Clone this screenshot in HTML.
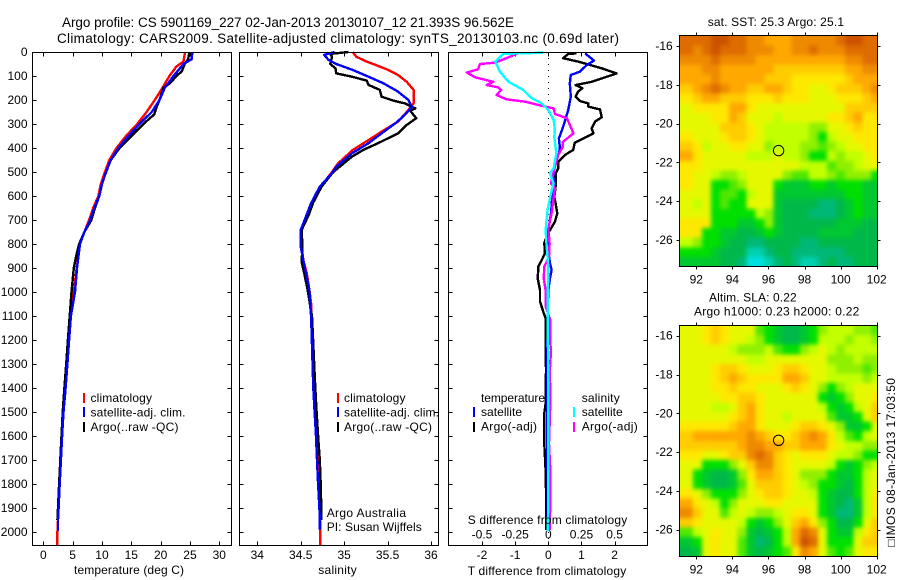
<!DOCTYPE html>
<html lang="en">
<head>
<meta charset="utf-8">
<title>Argo profile chart</title>
<style>
html,body{margin:0;padding:0;background:#fff;}
svg{display:block;}
text{font-family:"Liberation Sans",sans-serif;font-size:12px;fill:#000;}
.frame{fill:none;stroke:#000;stroke-width:1;shape-rendering:crispEdges;}
.bar{shape-rendering:crispEdges;}
</style>
</head>
<body>
<svg id="chart" xmlns="http://www.w3.org/2000/svg" width="900" height="580" viewBox="0 0 900 580">
  <defs>
    <filter id="mapSmooth" filterUnits="userSpaceOnUse" x="640" y="0" width="260" height="580" color-interpolation-filters="sRGB">
      <feGaussianBlur stdDeviation="2.2"/>
    </filter>
    <clipPath id="sstClip"><rect x="680" y="36" width="197" height="230.5"/></clipPath>
    <clipPath id="slaClip"><rect x="680" y="326" width="197" height="230.5"/></clipPath>
  </defs>
  <rect x="0" y="0" width="900" height="580" fill="#fff"/>

  <text x="62" y="27" textLength="452" lengthAdjust="spacing" style="font-size:13.5px">Argo profile: CS 5901169_227 02-Jan-2013 20130107_12 21.393S 96.562E</text>
  <text x="57" y="43" textLength="562" lengthAdjust="spacing" style="font-size:13.5px">Climatology: CARS2009. Satellite-adjusted climatology: synTS_20130103.nc (0.69d later)</text>

  <g id="maps">
    <g clip-path="url(#sstClip)"><g id="sstCells" filter="url(#mapSmooth)"></g></g>
    <g clip-path="url(#slaClip)"><g id="slaCells" filter="url(#mapSmooth)"></g></g>
  </g>
  <g id="ticks"></g>
  <g id="marks"></g>

  <rect class="frame" x="32.5" y="52.5" width="199" height="493"/>
  <rect class="frame" x="239.5" y="52.5" width="199" height="493"/>
  <rect class="frame" x="448.5" y="52.5" width="199" height="493"/>
  <rect class="frame" x="679.5" y="35.5" width="198" height="231"/>
  <rect class="frame" x="679.5" y="325.5" width="198" height="231"/>

  <g>
    <rect class="bar" x="83" y="393" width="2" height="10" fill="#f00"/>
    <rect class="bar" x="83" y="407" width="2" height="10" fill="#00f"/>
    <rect class="bar" x="83" y="422" width="2" height="10" fill="#000"/>
    <text x="90.5" y="402" textLength="61.5" lengthAdjust="spacing">climatology</text>
    <text x="90.5" y="416.5" textLength="95" lengthAdjust="spacing">satellite-adj. clim.</text>
    <text x="90.5" y="431" textLength="88" lengthAdjust="spacing">Argo(..raw -QC)</text>
  </g>
  <g>
    <rect class="bar" x="337" y="393" width="2" height="10" fill="#f00"/>
    <rect class="bar" x="337" y="407" width="2" height="10" fill="#00f"/>
    <rect class="bar" x="337" y="422" width="2" height="10" fill="#000"/>
    <text x="344" y="402" textLength="61.5" lengthAdjust="spacing">climatology</text>
    <text x="344" y="416.5" textLength="95" lengthAdjust="spacing">satellite-adj. clim.</text>
    <text x="344" y="431" textLength="88" lengthAdjust="spacing">Argo(..raw -QC)</text>
    <text x="326.7" y="517" textLength="79.3" lengthAdjust="spacing">Argo Australia</text>
    <text x="326.7" y="531" textLength="95" lengthAdjust="spacing">PI: Susan Wijffels</text>
  </g>
  <g>
    <text x="481" y="402" textLength="64" lengthAdjust="spacing">temperature</text>
    <text x="581.7" y="402" textLength="38" lengthAdjust="spacing">salinity</text>
    <rect class="bar" x="473" y="407" width="2" height="10" fill="#00f"/>
    <rect class="bar" x="473" y="422" width="2" height="10" fill="#000"/>
    <rect class="bar" x="573" y="407" width="2" height="10" fill="#0ff"/>
    <rect class="bar" x="573" y="422" width="2" height="10" fill="#f0f"/>
    <text x="481" y="416" textLength="41" lengthAdjust="spacing">satellite</text>
    <text x="481" y="430.7" textLength="56" lengthAdjust="spacing">Argo(-adj)</text>
    <text x="581.7" y="416" textLength="41" lengthAdjust="spacing">satellite</text>
    <text x="581.7" y="430.7" textLength="56" lengthAdjust="spacing">Argo(-adj)</text>
  </g>

  <text x="74" y="574" textLength="110" lengthAdjust="spacing">temperature (deg C)</text>
  <text x="318.3" y="574" textLength="38.4" lengthAdjust="spacing">salinity</text>
  <text x="467.7" y="524" textLength="159.5" lengthAdjust="spacing">S difference from climatology</text>
  <text x="467.7" y="575" textLength="158.5" lengthAdjust="spacing">T difference from climatology</text>

  <text x="707.7" y="26" textLength="136.3" lengthAdjust="spacing">sat. SST: 25.3 Argo: 25.1</text>
  <text x="709" y="301.7" textLength="87.7" lengthAdjust="spacing">Altim. SLA: 0.22</text>
  <text x="694" y="315.7" textLength="165.3" lengthAdjust="spacing">Argo h1000: 0.23 h2000: 0.22</text>

  <text transform="translate(895,546.7) rotate(-90)" x="0" y="0" textLength="168.7" lengthAdjust="spacing">□IMOS 08-Jan-2013 17:03:50</text>
</svg>

<script>
/* ---------- tick labels ---------- */
var depthTicks = [0,100,200,300,400,500,600,700,800,900,1000,1100,1200,1300,1400,1500,1600,1700,1800,1900,2000];
var temperatureTicks = [0,5,10,15,20,25,30];
var salinityTicks = [34,34.5,35,35.5,36];
var salinityTickLabels = ['34','34.5','35','35.5','36'];
var tDiffTicks = [-2,-1,0,1,2];
var sDiffTicks = [-0.5,-0.25,0,0.25,0.5];
var sDiffTickLabels = ['-0.5','-0.25','0','0.25','0.5'];
var lonTicks = [92,94,96,98,100,102];
var latTicks = [-16,-18,-20,-22,-24,-26];

/* ---------- temperature panel ---------- */
var tempClimDepth = [0,40,60,100,150,200,250,300,350,400,450,500,550,600,650,700,750,800,900,1000,1100,1200,1300,1400,1500,1600,1700,1800,1900,2000,2054];
var tempClimValue = [24.15,23.9,22.7,21.5,20.3,19.0,17.6,16.0,14.1,12.5,11.25,10.5,9.8,9.4,8.5,7.8,7.0,6.25,5.7,5.2,4.7,4.35,4.0,3.7,3.4,3.2,2.95,2.8,2.6,2.4,2.35];
var tempArgoDepth = [0,30,50,80,100,130,150,200,230,260,300,350,400,450,500,550,600,650,700,750,800,850,900,1000,1100,1200,1300,1400,1500,1600,1700,1800,1900,1950];
var tempArgoValue = [24.9,24.7,24.1,23.6,22.7,21.6,20.45,19.8,19.3,18.9,17.05,15.05,13,11.5,10.7,10,9.55,8.8,8.2,7,6.1,5.6,5.2,4.8,4.5,4.2,3.9,3.6,3.3,3.1,2.9,2.7,2.5,2.4];
var tempSatDepth = [0,30,50,100,150,200,250,300,350,400,450,500,550,600,650,700,750,800,850,900,1000,1100,1200,1300,1400,1500,1600,1700,1800,1900,1950,1995];
var tempSatValue = [25.4,25.3,23.9,22.2,20.7,19.8,18.5,16.4,14.5,12.8,11.5,10.7,10,9.55,8.7,8,7,6.25,6,5.75,5.4,4.7,4.4,4.1,3.8,3.45,3.2,3,2.8,2.6,2.5,2.5];

/* ---------- salinity panel ---------- */
var salClimDepth = [0,20,40,55,75,96,124,158,214,250,290,332,367,408,464,500,547,603,672,750,811,867,922,992,1047,1100,1200,1300,1400,1500,1600,1700,1800,1900,2000,2054];
var salClimValue = [35.1,35.14,35.26,35.37,35.51,35.62,35.72,35.8,35.8,35.72,35.62,35.43,35.28,35.1,34.93,34.86,34.76,34.66,34.59,34.5,34.51,34.53,34.57,34.6,34.62,34.62,34.63,34.645,34.656,34.668,34.676,34.695,34.71,34.72,34.725,34.725];
var salArgoDepth = [0,8,20,50,68,89,103,119,137,158,186,203,214,235,244,276,304,339,380,408,436,500,561,630,672,742,811,873,922,992,1060,1100,1400,1500,1600,1700,1800,1900,1950];
var salArgoValue = [35.05,34.84,34.86,34.84,34.9,34.91,35.09,35.26,35.28,35.41,35.43,35.57,35.7,35.82,35.76,35.83,35.72,35.62,35.39,35.22,35.09,34.875,34.74,34.64,34.6,34.51,34.52,34.51,34.54,34.58,34.61,34.63,34.668,34.683,34.7,34.72,34.73,34.737,34.737];
var salSatDepth = [0,12,33,50,75,103,130,165,200,228,262,297,339,380,422,478,505,561,630,742,811,867,922,992,1060,1100,1400,1500,1600,1700,1800,1900,1950,1990];
var salSatValue = [34.89,34.77,34.82,34.91,35.1,35.28,35.45,35.62,35.74,35.78,35.7,35.59,35.43,35.28,35.09,34.91,34.86,34.72,34.62,34.5,34.5,34.53,34.56,34.6,34.61,34.62,34.645,34.66,34.676,34.687,34.7,34.715,34.72,34.72];

/* ---------- difference panel ---------- */
var diffTArgoDepth = [6,8,26,40,68,89,110,124,138,151,165,186,204,214,228,239,272,290,318,339,360,378,408,429,457,485,506,561,603,631,672,707,742,769,797,839,867,894,943,992,1040,1082,1110,1214,1325,1464,1506,1631,1742,1825,1992];
var diffTArgoValue = [0.85,0.6,0.45,0.9,1.61,2.06,1.61,1.31,0.82,1.03,0.9,0.82,0.95,1.21,1.21,1.56,1.61,1.41,1.31,1.36,1.06,0.8,0.75,0.5,0.3,0.3,0.22,0.22,0.18,0.22,0.27,0.2,0.05,-0.05,-0.12,-0.1,-0.2,-0.3,-0.32,-0.25,-0.25,-0.15,-0.08,-0.08,-0.07,-0.08,-0.12,-0.12,-0.08,-0.07,-0.06];
var diffTSatDepth = [6,36,54,82,96,131,186,242,311,360,401,422,464,519,561,603,672,742,811,881,908,943,992,1096,1325,1600,1880,1995];
var diffTSatValue = [1.11,1.38,1.16,0.95,0.68,0.65,0.68,0.6,0.45,0.32,0.35,0.32,0.2,0.15,0.2,0.12,0.08,0,-0.02,0.05,0.1,0.05,0,-0.02,-0.03,-0.03,-0.02,0];
var diffSArgoDepth = [6,22,44,50,72,86,106,124,138,147,158,179,197,207,221,235,258,276,339,374,394,429,499,547,568,672,735,797,853,894,943,992,1060,1117,1214,1242,1325,1464,1631,1742,1880,1992];
var diffSArgoValue = [-0.23,-0.3,-0.4,-0.515,-0.53,-0.615,-0.55,-0.415,-0.465,-0.38,-0.355,-0.39,-0.315,-0.175,-0.075,0.04,0.05,0.14,0.19,0.11,0.11,0.075,0.04,0.02,0.05,0.025,0,0.01,0.005,-0.03,-0.035,-0.02,-0.02,0.015,0.015,0.02,0.012,0.015,0.005,0.015,0.015,0.01];
var diffSSatDepth = [3,8,40,82,124,158,193,214,242,283,325,353,422,485,506,547,589,658,742,811,894,943,992,1464,1880,1995];
var diffSSatValue = [-0.04,-0.34,-0.4,-0.365,-0.3,-0.19,-0.125,-0.05,0,0.04,0.05,0.045,0.06,0.04,0.012,0.04,0.02,-0.005,-0.02,-0.012,0,0,-0.005,0,0,-0.005];

/* ---------- float position ---------- */
var argoLon = [96.562];
var argoLat = [-21.393];

/* ---------- heat-map colours (index = level) ---------- */
var mapLevelColors = ['#cc5200','#de6c00','#ee8a00','#ffa800','#ffcc00','#ffe800','#e6f800','#c2ff00','#90f000','#50e800','#00e000','#00c830','#00b84a','#00b878','#00d0b0','#00e0e0'];

/* ---------- satellite SST map, north to south, colour level per cell ---------- */
var sstLevels = [
[1,1,1,0,0,1,1,2,2,3,3,3,2,2,2,2,2,1,0,0,1,1],
[1,2,1,0,1,1,1,2,2,2,3,3,2,2,1,2,2,2,1,1,1,1],
[2,2,2,1,2,2,2,2,3,3,3,3,3,3,3,3,3,3,2,2,1,1],
[3,3,2,2,3,3,3,3,3,3,4,4,4,4,4,4,4,4,3,3,2,2],
[3,3,3,2,3,3,3,3,3,4,4,4,5,5,5,5,5,5,4,3,3,3],
[4,3,2,1,2,3,3,4,4,3,3,4,5,5,6,6,5,4,4,4,3,2],
[5,4,3,3,4,4,4,5,5,5,4,5,5,5,6,6,6,5,5,5,4,3],
[6,5,5,5,5,3,3,5,6,6,6,6,6,6,6,6,6,6,4,4,4,4],
[6,6,6,5,5,3,4,6,6,6,7,6,6,6,6,6,5,5,4,3,5,5],
[6,6,6,6,4,4,4,5,6,7,7,7,7,7,8,8,6,6,5,4,5,5],
[5,6,6,6,5,4,4,5,6,7,7,7,7,7,8,10,7,6,6,5,5,5],
[4,5,7,6,6,5,5,6,6,8,7,7,7,8,8,9,8,7,6,6,5,5],
[3,5,6,6,6,6,6,7,7,7,6,7,7,8,10,10,7,8,7,7,6,5],
[5,5,6,6,6,6,6,6,6,6,6,6,6,7,7,7,9,8,8,7,6,6],
[5,6,6,7,8,8,7,6,6,6,6,8,9,9,7,7,8,9,8,8,8,10],
[5,6,6,10,10,9,8,6,6,6,10,11,11,11,10,10,11,10,10,10,11,11],
[6,6,6,10,9,9,10,7,6,6,11,11,11,11,11,11,11,11,10,10,11,11],
[6,7,6,10,9,10,10,6,6,6,11,12,12,12,12,13,13,12,11,10,11,11],
[6,6,6,10,10,10,10,10,7,8,11,12,12,12,13,13,13,12,11,10,11,11],
[5,5,5,10,10,10,11,11,10,8,11,12,12,12,12,12,12,11,11,11,12,12],
[5,5,10,10,11,11,12,12,11,10,11,12,12,12,12,11,11,11,11,12,12,12],
[7,8,10,10,11,12,12,13,13,12,12,12,12,13,13,12,12,12,12,12,12,12],
[10,10,10,11,12,12,12,14,14,13,12,12,13,13,13,13,13,13,12,12,12,12],
[11,11,11,11,12,12,13,15,15,14,13,12,13,14,14,13,12,13,13,12,12,12]
];

/* ---------- altimeter SLA map, north to south, colour level per cell ---------- */
var slaLevels = [
[6,6,5,4,5,6,6,6,9,10,11,12,12,11,10,8,7,7,7,8,8,9],
[6,6,5,4,5,6,6,7,8,10,11,12,12,11,10,7,7,7,8,7,7,8],
[6,6,6,6,6,7,8,8,8,7,9,10,10,8,7,6,7,8,7,7,7,7],
[6,6,6,6,6,6,6,7,7,6,6,6,6,6,6,6,8,8,8,7,8,8],
[6,6,6,5,4,4,5,6,6,6,5,4,4,5,6,6,7,8,8,8,9,8],
[6,6,6,5,4,3,4,5,5,5,5,3,3,4,6,6,7,7,7,7,8,7],
[6,6,6,5,5,4,5,5,6,6,6,5,4,5,6,8,10,8,7,6,6,6],
[6,6,6,6,5,5,4,4,5,6,6,6,6,6,6,10,11,10,8,6,6,5],
[6,6,6,7,7,6,4,3,5,6,6,6,6,6,6,7,10,11,10,7,6,4],
[6,6,6,6,6,5,4,3,5,6,6,7,6,6,6,6,9,11,11,10,6,4],
[5,5,5,5,5,4,3,3,5,6,6,6,5,4,4,5,6,8,11,11,10,6],
[4,3,3,3,3,3,3,2,3,4,5,5,4,3,2,3,5,7,9,10,7,6],
[4,4,4,4,4,4,3,2,2,3,3,4,4,3,3,3,5,6,7,7,8,8],
[5,5,6,6,5,4,4,2,1,2,4,5,6,5,5,5,6,7,7,8,10,10],
[6,6,10,10,10,8,6,4,2,2,4,5,6,6,6,6,7,10,11,10,8,7],
[6,10,11,12,12,11,8,5,3,3,4,5,6,8,8,8,10,11,11,10,7,6],
[6,10,11,12,12,11,9,6,4,4,4,5,6,7,8,10,10,11,12,10,7,6],
[5,6,8,10,10,10,8,6,5,4,4,5,6,6,7,10,11,12,12,10,7,5],
[3,5,6,7,10,8,6,6,6,5,5,6,6,6,6,10,11,12,13,11,7,5],
[2,4,6,6,9,7,6,7,8,8,7,6,5,5,6,10,11,13,13,11,7,5],
[4,5,6,6,6,6,7,10,11,10,8,6,4,3,5,8,10,12,12,10,6,4],
[9,7,6,5,6,6,8,11,12,11,10,7,3,1,2,6,10,11,11,7,5,4],
[11,10,6,5,6,6,9,11,13,12,10,7,3,0,1,6,10,10,10,6,4,4],
[12,11,6,5,6,6,9,11,12,11,10,9,5,2,3,6,9,10,9,6,5,5]
];

/* ---------- axis functions ---------- */
var SVGNS = 'http://www.w3.org/2000/svg';
function yDepth(d){ return 52 + d * 0.24; }
function xTemp(t){ return 43.3 + t * 5.867; }
function xSal(s){ return 257.3 + (s - 34) * 86.85; }
function xDiffT(t){ return 548.3 + t * 33.15; }
function xDiffS(s){ return 548.3 + s * 132.6; }
function xLon(lon){ return 696.3 + (lon - 92) * 18.04; }
function yLatTop(lat){ return 46 + (-16 - lat) * 19.4; }
function yLatBottom(lat){ return 335.7 + (-16 - lat) * 19.4; }

var ticksLayer = document.getElementById('ticks');
var marksLayer = document.getElementById('marks');
var mapsLayer = document.getElementById('maps');

function addTick(x1, y1, x2, y2, name){
  var el = document.createElementNS(SVGNS, 'line');
  
  
  el.setAttribute('x1', x1); el.setAttribute('y1', y1);
  el.setAttribute('x2', x2); el.setAttribute('y2', y2);
  el.setAttribute('stroke', '#000');
  el.setAttribute('stroke-width', '1');
  el.setAttribute('shape-rendering', 'crispEdges');
  ticksLayer.appendChild(el);
}
function addLabel(x, y, str, anchor, name){
  var el = document.createElementNS(SVGNS, 'text');
  
  
  el.setAttribute('x', x); el.setAttribute('y', y);
  el.setAttribute('text-anchor', anchor);
  el.textContent = str;
  ticksLayer.appendChild(el);
}
function addProfile(xf, depths, values, color, name){
  var pts = [];
  for (var i = 0; i < depths.length; i++) {
    pts.push(xf(values[i]).toFixed(1) + ',' + yDepth(depths[i]).toFixed(1));
  }
  var el = document.createElementNS(SVGNS, 'polyline');
  
  
  el.setAttribute('points', pts.join(' '));
  el.setAttribute('fill', 'none');
  el.setAttribute('stroke', color);
  el.setAttribute('stroke-width', '2.4');
  el.setAttribute('stroke-linejoin', 'round');
  el.setAttribute('shape-rendering', 'crispEdges');
  marksLayer.appendChild(el);
}
function addHeatmap(levels, yLat, target, name){
  var lon0 = 91.33, latTop = -15.47, lonStep = 0.4945, latStep = 0.4958, pad = 12;
  var lastRow = levels.length - 1;
  for (var r = 0; r < levels.length; r++) {
    for (var c = 0; c < levels[r].length; c++) {
      var el = document.createElementNS(SVGNS, 'rect');
      
      
      var x0 = xLon(lon0 + c * lonStep), x1 = xLon(lon0 + (c + 1) * lonStep);
      var y0 = yLat(latTop - r * latStep), y1 = yLat(latTop - (r + 1) * latStep);
      /* outer cells run past the clip so the smoothing does not fade at the frame */
      if (c === 0) { x0 -= pad; }
      if (c === levels[r].length - 1) { x1 += pad; }
      if (r === 0) { y0 -= pad; }
      if (r === lastRow) { y1 += pad; }
      el.setAttribute('x', x0.toFixed(1));
      el.setAttribute('y', y0.toFixed(1));
      el.setAttribute('width', (x1 - x0 + 0.5).toFixed(1));
      el.setAttribute('height', (y1 - y0 + 0.5).toFixed(1));
      el.setAttribute('fill', mapLevelColors[levels[r][c]]);
      el.setAttribute('shape-rendering', 'crispEdges');
      target.appendChild(el);
    }
  }
}
function addMarker(yLat, name){
  var el = document.createElementNS(SVGNS, 'circle');
  
  
  el.setAttribute('cx', xLon(argoLon[0]).toFixed(1));
  el.setAttribute('cy', yLat(argoLat[0]).toFixed(1));
  el.setAttribute('r', '5.2');
  el.setAttribute('fill', 'none');
  el.setAttribute('stroke', '#000');
  el.setAttribute('stroke-width', '1');
  mapsLayer.appendChild(el);
}

/* ---------- depth ticks on the three profile panels ---------- */
var panelEdges = [[32.5,231.5],[239.5,438.5],[448.5,647.5]];
panelEdges.forEach(function(edge, p){
  depthTicks.forEach(function(d){
    var y = Math.round(yDepth(d)) + 0.5;
    addTick(edge[0], y, edge[0] + 4, y, 'depth-tick-left');
    addTick(edge[1] - 4, y, edge[1], y, 'depth-tick-right');
    if (p === 0) {
      addLabel(27.5, yDepth(d) + 4, String(d), 'end', 'depth-tick-label');
    }
  });
});

/* ---------- x ticks on the three profile panels ---------- */
function xTicks(values, xf, labels, name, labelY){
  values.forEach(function(v, i){
    var x = Math.round(xf(v)) + 0.5;
    addTick(x, 52.5, x, 56.5, name + '-tick-top');
    addTick(x, 541.5, x, 545.5, name + '-tick-bottom');
    if (labels) {
      addLabel(xf(v), labelY, labels[i], 'middle', name + '-tick-label');
    }
  });
}
xTicks(temperatureTicks, xTemp, temperatureTicks.map(String), 'temperature', 559);
xTicks(salinityTicks, xSal, salinityTickLabels, 'salinity', 559);
xTicks(tDiffTicks, xDiffT, tDiffTicks.map(String), 't-difference', 559);
sDiffTicks.forEach(function(v, i){
  addLabel(xDiffS(v), 538.7, sDiffTickLabels[i], 'middle', 's-difference-tick-label');
});

/* ---------- zero reference line in difference panel ---------- */
var zeroLine = document.createElementNS(SVGNS, 'line');


zeroLine.setAttribute('x1', xDiffT(0));
zeroLine.setAttribute('x2', xDiffT(0));
zeroLine.setAttribute('y1', yDepth(0));
zeroLine.setAttribute('y2', yDepth(2054));
zeroLine.setAttribute('stroke', '#000');
zeroLine.setAttribute('stroke-width', '1');
zeroLine.setAttribute('stroke-dasharray', '1 5');
zeroLine.setAttribute('shape-rendering', 'crispEdges');
marksLayer.appendChild(zeroLine);

/* ---------- profile lines ---------- */
addProfile(xTemp, tempClimDepth, tempClimValue, '#f00', 'temperature-climatology-line');
addProfile(xTemp, tempArgoDepth, tempArgoValue, '#000', 'temperature-argo-line');
addProfile(xTemp, tempSatDepth, tempSatValue, '#00f', 'temperature-satellite-line');
addProfile(xSal, salClimDepth, salClimValue, '#f00', 'salinity-climatology-line');
addProfile(xSal, salArgoDepth, salArgoValue, '#000', 'salinity-argo-line');
addProfile(xSal, salSatDepth, salSatValue, '#00f', 'salinity-satellite-line');
addProfile(xDiffT, diffTArgoDepth, diffTArgoValue, '#000', 't-difference-argo-line');
addProfile(xDiffT, diffTSatDepth, diffTSatValue, '#00f', 't-difference-satellite-line');
addProfile(xDiffS, diffSArgoDepth, diffSArgoValue, '#f0f', 's-difference-argo-line');
addProfile(xDiffS, diffSSatDepth, diffSSatValue, '#0ff', 's-difference-satellite-line');

/* ---------- maps ---------- */
addHeatmap(sstLevels, yLatTop, document.getElementById('sstCells'), 'sst-cell');
addHeatmap(slaLevels, yLatBottom, document.getElementById('slaCells'), 'sla-cell');
addMarker(yLatTop, 'sst-argo-position-marker');
addMarker(yLatBottom, 'sla-argo-position-marker');

function mapAxes(yLat, top, bottom, name){
  lonTicks.forEach(function(lon){
    var x = Math.round(xLon(lon)) + 0.5;
    addTick(x, top - 3, x, top, name + '-lon-tick-top');
    addTick(x, bottom, x, bottom + 3, name + '-lon-tick-bottom');
    addLabel(xLon(lon), bottom + 16.8, String(lon), 'middle', name + '-lon-tick-label');
  });
  latTicks.forEach(function(lat){
    var y = Math.round(yLat(lat)) + 0.5;
    addTick(676.5, y, 679.5, y, name + '-lat-tick-left');
    addTick(877.5, y, 880.5, y, name + '-lat-tick-right');
    addLabel(672.7, yLat(lat) + 4, String(lat), 'end', name + '-lat-tick-label');
  });
}
mapAxes(yLatTop, 35.5, 266.5, 'sst');
mapAxes(yLatBottom, 325.5, 556.5, 'sla');
</script>
</body>
</html>
